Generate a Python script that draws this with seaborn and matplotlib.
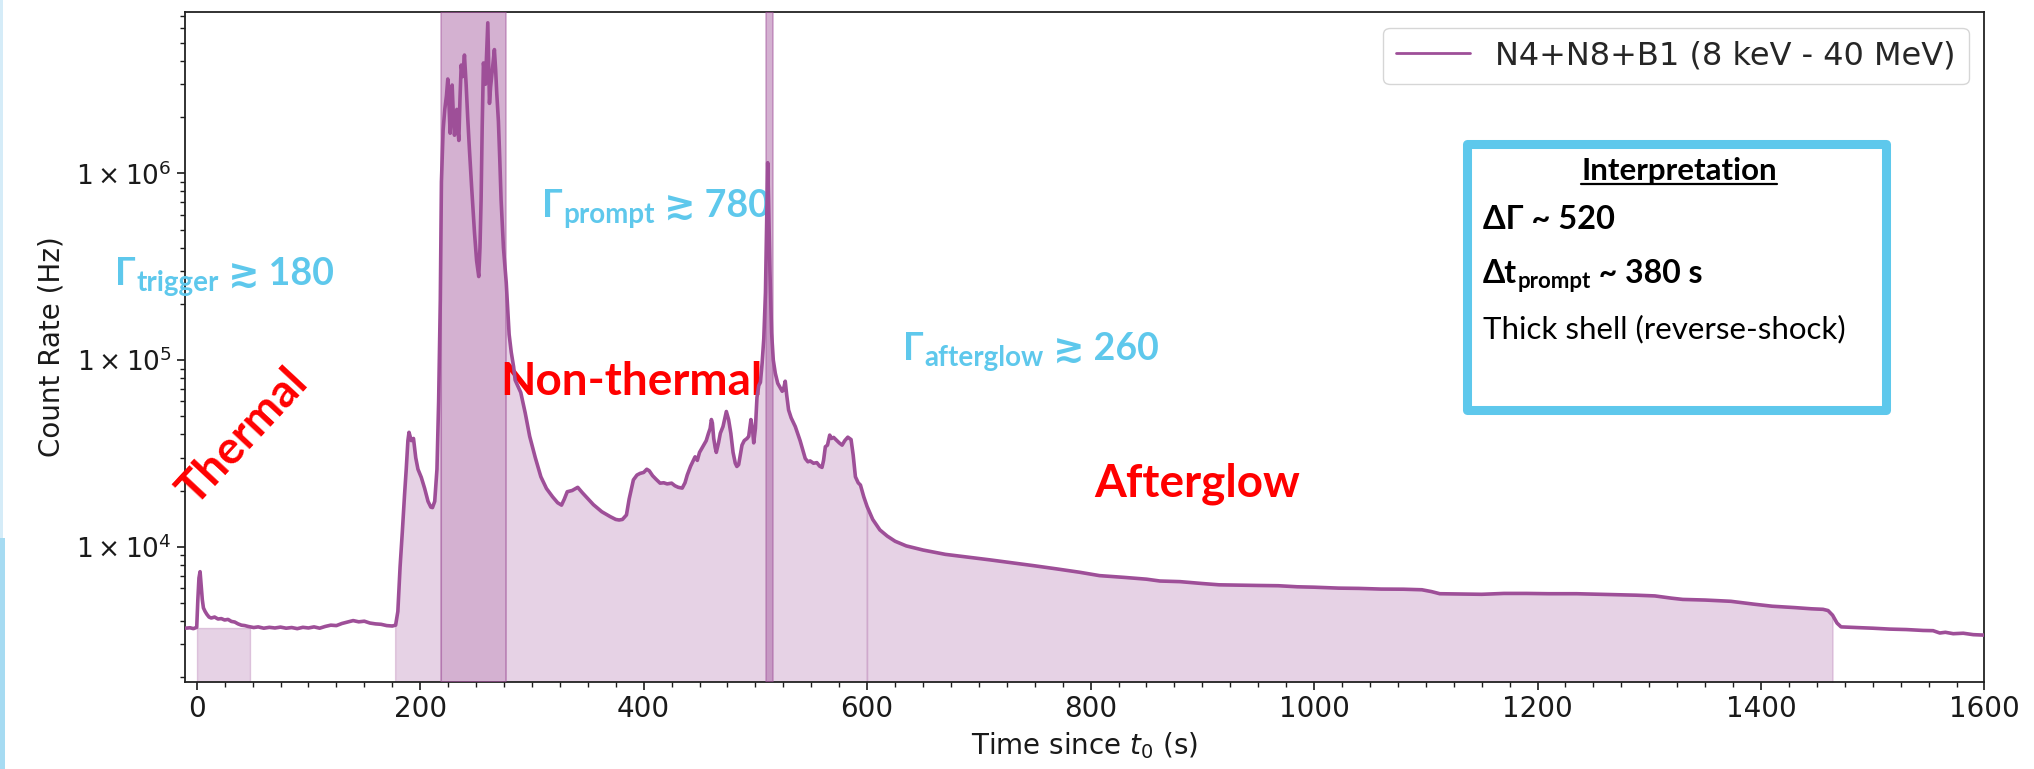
import numpy as np
import pandas as pd
import matplotlib
matplotlib.use("Agg")
import matplotlib.pyplot as plt
import seaborn as sns
from matplotlib.ticker import MultipleLocator, FixedLocator, FuncFormatter, LogLocator, NullFormatter
from matplotlib.patches import Rectangle
from matplotlib.lines import Line2D

# ---------------------------------------------------------------- light curve
time_s = [
    -10, -6, -3, 0, 1, 2, 3, 4, 5, 6, 7.5, 9, 11, 13, 16, 19, 22, 25, 28, 31,
    34, 37, 40, 43, 46, 48, 51, 55, 60, 65, 70, 75, 80, 85, 90, 95, 100, 105,
    110, 115, 120, 125, 130, 135, 140, 145, 150, 155, 160, 165, 170, 175, 178,
    180, 182, 184, 186, 187.5, 189, 190, 192, 194, 196, 198, 201, 204, 207,
    209.5, 211, 213, 215, 216.5, 218, 219, 220.5, 222, 223.5, 224.7, 225.8,
    226.8, 227.8, 228.6, 229.6, 230.7, 231.8, 232.8, 233.7, 234.6, 235.6,
    236.7, 238, 239.6, 241.1, 242.5, 244.1, 246, 248.6, 250.5, 252.4, 253.5,
    254.5, 255.5, 256.6, 257.5, 258.4, 259.5, 260.5, 261.3, 262, 263, 264,
    265.2, 266.4, 267.5, 268.5, 270, 271.2, 272.4, 274.5, 276.3, 277, 279.6,
    281.5, 283.6, 285, 290, 294, 298, 303, 308, 313, 318.5, 323, 326.5, 329,
    331.6, 336, 341, 345, 349.6, 355, 362.5, 370, 375, 378, 381, 384.6, 387,
    390.8, 394, 396.8, 400, 402.8, 405, 408, 411, 414.7, 418, 421, 425, 428,
    431, 434.5, 437, 439, 442, 446, 448, 450, 453.7, 456, 458, 459.5, 460.6,
    461.5, 462.7, 464, 465, 467, 468.6, 471, 474, 476, 478, 480, 482, 483.4,
    485, 488, 490, 492.5, 494, 496, 497.5, 498.5, 500, 501.4, 503, 504.5, 506,
    507.5, 509, 510.2, 511, 511.8, 513, 514.5, 516, 517.8, 520, 522.3, 524,
    525, 526.7, 528, 529.7, 532, 535.7, 540, 544.6, 547, 549, 552, 555, 557.5,
    559.6, 561, 562.6, 564.5, 566.5, 568, 570, 573, 575, 577.6, 580, 582.7,
    585.6, 587.5, 589.5, 592, 594, 597, 600, 605, 611.4, 618, 625, 635, 650,
    670, 690, 710, 730, 750, 770, 790, 808, 830, 850, 862, 880, 900, 915, 935,
    950, 968, 985, 1000, 1022, 1040, 1060, 1080, 1096.5, 1105, 1112.5, 1130,
    1150, 1170, 1190, 1210, 1235, 1260, 1288, 1305, 1320, 1330, 1350, 1373,
    1394, 1410, 1430, 1445, 1455.5, 1460, 1464, 1468, 1471.6, 1480, 1490, 1500,
    1515, 1530, 1545, 1554, 1560, 1565, 1572, 1581, 1590, 1600,
]
count_rate_hz = [
    3.66e3, 3.68e3, 3.64e3, 3.70e3, 5.2e3, 6.8e3, 7.35e3, 6.2e3, 5.2e3, 4.7e3,
    4.5e3, 4.35e3, 4.2e3, 4.15e3, 4.2e3, 4.1e3, 4.12e3, 4.05e3, 4.08e3, 3.98e3,
    3.95e3, 3.86e3, 3.8e3, 3.78e3, 3.74e3, 3.72e3, 3.69e3, 3.72e3, 3.66e3,
    3.70e3, 3.67e3, 3.71e3, 3.66e3, 3.69e3, 3.64e3, 3.70e3, 3.67e3, 3.72e3,
    3.66e3, 3.74e3, 3.80e3, 3.78e3, 3.88e3, 3.95e3, 4.02e3, 3.96e3, 3.99e3,
    3.90e3, 3.86e3, 3.84e3, 3.78e3, 3.76e3, 3.80e3,
    4.5e3, 7.8e3, 1.2e4, 1.9e4, 2.6e4, 3.7e4, 4.1e4, 3.7e4, 3.8e4, 3.0e4,
    2.6e4, 2.35e4, 2.05e4, 1.75e4, 1.63e4, 1.62e4, 1.75e4, 2.6e4, 6e4, 2.1e5,
    9e5, 1.7e6, 2.2e6, 2.6e6, 3.2e6, 2.3e6, 1.64e6, 2.2e6, 2.97e6, 2.1e6,
    1.6e6, 2.0e6, 2.2e6, 1.7e6, 1.5e6, 2.5e6, 3.8e6, 3.3e6, 4.3e6, 3.0e6,
    2.0e6, 1.33e6, 8.5e5, 4.8e5, 3.4e5, 2.8e5, 4e5, 7.2e5, 1.8e6, 3.9e6,
    3.5e6, 3.0e6, 4.5e6, 6.4e6, 3.8e6, 2.37e6, 2.9e6, 3.3e6, 3.9e6, 4.6e6,
    3.6e6, 2.7e6, 1.9e6, 1.2e6, 7.2e5, 4.0e5, 2.9e5, 2.6e5, 1.37e5, 1.1e5,
    9.2e4, 7.8e4, 6.7e4, 5.2e4, 3.9e4, 3.0e4, 2.37e4, 2.05e4, 1.85e4, 1.72e4,
    1.67e4, 1.8e4, 1.97e4, 2.0e4, 2.08e4, 1.95e4, 1.82e4, 1.68e4, 1.54e4,
    1.45e4, 1.40e4, 1.39e4, 1.40e4, 1.48e4, 1.8e4, 2.28e4, 2.42e4, 2.47e4,
    2.5e4, 2.6e4, 2.55e4, 2.4e4, 2.3e4, 2.19e4, 2.2e4, 2.17e4, 2.19e4,
    2.12e4, 2.08e4, 2.06e4, 2.2e4, 2.42e4, 2.7e4, 3.03e4, 2.9e4, 3.2e4,
    3.5e4, 3.7e4, 4.05e4, 4.3e4, 4.8e4, 4.6e4, 3.8e4, 3.4e4, 3.2e4, 3.6e4,
    4.05e4, 4.4e4, 5.3e4, 4.8e4, 4.05e4, 3.2e4, 2.8e4, 2.69e4, 2.75e4, 3.5e4,
    3.7e4, 3.8e4, 3.9e4, 4.8e4, 4.2e4, 3.6e4, 4.3e4, 6.3e4, 7.3e4, 7.6e4,
    9.6e4, 1.3e5, 2.3e5, 6e5, 1.14e6, 7e5, 3e5, 1.4e5, 1.0e5, 8.5e4, 7.5e4,
    7.1e4, 6.8e4, 6.9e4, 7.7e4, 6.5e4, 5.4e4, 4.9e4, 4.4e4, 3.7e4, 2.97e4,
    2.85e4, 2.88e4, 2.8e4, 2.82e4, 2.7e4, 2.66e4, 2.9e4, 3.43e4, 3.5e4,
    3.96e4, 3.8e4, 3.85e4, 3.7e4, 3.6e4, 3.5e4, 3.7e4, 3.86e4, 3.75e4, 3.1e4,
    2.37e4, 2.2e4, 2.14e4, 1.85e4, 1.64e4, 1.4e4, 1.23e4, 1.14e4, 1.07e4,
    1.01e4, 9.6e3, 9.1e3, 8.8e3, 8.5e3, 8.2e3, 7.9e3, 7.6e3, 7.3e3, 7.0e3,
    6.85e3, 6.7e3, 6.55e3, 6.5e3, 6.35e3, 6.25e3, 6.22e3, 6.2e3, 6.18e3,
    6.1e3, 6.07e3, 6.0e3, 5.98e3, 5.93e3, 5.92e3, 5.88e3, 5.75e3, 5.6e3,
    5.58e3, 5.56e3, 5.62e3, 5.62e3, 5.6e3, 5.6e3, 5.55e3, 5.5e3, 5.45e3,
    5.3e3, 5.22e3, 5.18e3, 5.1e3, 4.92e3, 4.8e3, 4.72e3, 4.65e3, 4.62e3,
    4.55e3, 4.3e3, 3.9e3, 3.72e3, 3.7e3, 3.68e3, 3.66e3, 3.62e3, 3.6e3,
    3.56e3, 3.55e3, 3.45e3, 3.48e3, 3.42e3, 3.44e3, 3.38e3, 3.36e3,
]

series_label = "N4+N8+B1 (8 keV - 40 MeV)"

# emission phases (s)
thermal_window = (0, 48)
nonthermal_window = (178, 600)
afterglow_window = (600, 1464)
prompt_spans = [(219, 277), (509.5, 515.5)]
thermal_level = 3.66e3

x_ticks = [0, 200, 400, 600, 800, 1000, 1200, 1400, 1600]
y_ticks = [1e4, 1e5, 1e6]

phase_labels = ["Thermal", "Non-thermal", "Afterglow"]
lorentz_labels = [("trigger", "180"), ("prompt", "780"), ("afterglow", "260")]
box_title = "Interpretation"
box_delta_gamma = "ΔΓ ~ 520"
box_delta_t = ("Δt", "prompt", " ~ 380 s")
box_shell = "Thick shell (reverse-shock)"

# ---------------------------------------------------------------- styling
sns.set_theme(style="ticks")
plt.rcParams["font.family"] = ["DejaVu Sans"]
plt.rcParams["mathtext.fontset"] = "dejavusans"

LINE = "#9e4f98"
CYAN = "#5ec8ec"
RED = "#ff0000"
ANN_FONT = ["Lato", "DejaVu Sans"]

df = pd.DataFrame({"time": time_s, "rate": count_rate_hz})
t = df["time"].to_numpy()
r = df["rate"].to_numpy()

fig = plt.figure(figsize=(20.34, 7.69), dpi=100)
ax = fig.add_axes([0.09095, 0.11352, 0.88471, 0.87126])

sns.lineplot(data=df, x="time", y="rate", ax=ax, color=LINE, linewidth=2.6,
             label=series_label, estimator=None, sort=False, zorder=5)
ax.set_yscale("log")
ax.set_xlim(-10.5, 1600)
ax.set_ylim(1892, 7.34e6)
floor = 1e3

# shaded emission phases
m_th = (t >= thermal_window[0]) & (t <= thermal_window[1])
ax.fill_between(t, floor, thermal_level, where=m_th, color=LINE, alpha=0.25, zorder=2)

in_prompt = (t > prompt_spans[0][0]) & (t < prompt_spans[0][1])
m_nt = (t >= nonthermal_window[0]) & (t <= nonthermal_window[1]) & ~in_prompt
ax.fill_between(t, floor, r, where=m_nt, color=LINE, alpha=0.25, zorder=2)

m_ag = (t >= afterglow_window[0]) & (t <= afterglow_window[1])
ax.fill_between(t, floor, r, where=m_ag, color=LINE, alpha=0.25, zorder=2)

for lo, hi in prompt_spans:
    ax.axvspan(lo, hi, color=LINE, alpha=0.44, lw=1.2, zorder=3)

# axes
ax.xaxis.set_major_locator(FixedLocator(x_ticks))
ax.xaxis.set_minor_locator(MultipleLocator(25))
ax.yaxis.set_major_locator(FixedLocator(y_ticks))
ax.yaxis.set_major_formatter(FuncFormatter(lambda v, p: r"$1\times10^{%d}$" % round(np.log10(v))))
ax.yaxis.set_minor_locator(LogLocator(base=10, subs=np.arange(2, 10)))
ax.yaxis.set_minor_formatter(NullFormatter())
ax.tick_params(which="major", length=6, width=1.2, color="k", labelcolor="k",
               left=True, bottom=True, top=False, right=False)
ax.tick_params(axis="x", which="major", labelsize=20)
ax.tick_params(axis="y", which="major", labelsize=19)
ax.tick_params(which="minor", length=3.5, width=1.0, color="k", left=True, bottom=True)
for sp in ax.spines.values():
    sp.set_visible(True)
    sp.set_color("#222222")
    sp.set_linewidth(1.3)
ax.set_xlabel(r"Time since $t_0$ (s)", fontsize=20, color="k", labelpad=5)
ax.set_ylabel("Count Rate (Hz)", fontsize=20, color="k", labelpad=8)

leg = ax.legend(loc="upper right", fontsize=23, frameon=True, fancybox=True,
                edgecolor="#cccccc", handlelength=2.3, borderpad=0.4)
for h in leg.get_lines():
    h.set_linewidth(2.0)

# phase names
txt_kw = dict(color=RED, fontsize=33, fontweight="bold", family=ANN_FONT, zorder=4)
ax.text(41.6, 3.87e4, phase_labels[0], rotation=47, rotation_mode="anchor",
        ha="center", va="center", **txt_kw)
ax.text(389, 6.5e4, phase_labels[1], ha="center", va="baseline", **txt_kw)
ax.text(895, 1.85e4, phase_labels[2], ha="center", va="baseline", **txt_kw)


def subscripted(x, y, head, sub, tail, size, sub_size, color, weight, transform, drop=0.0):
    kw = dict(color=color, fontweight=weight, family=ANN_FONT, zorder=4)
    h = ax.text(x, y, head, transform=transform, fontsize=size, ha="left", va="baseline", **kw)
    s = ax.annotate(sub, xy=(1, 0), xycoords=h, xytext=(0.5, drop), textcoords="offset points",
                    fontsize=sub_size, ha="left", va="baseline", annotation_clip=False, **kw)
    ax.annotate(tail, xy=(1, 0), xycoords=(s, h), xytext=(0, 0), textcoords="offset points",
                fontsize=size, ha="left", va="bottom", annotation_clip=False, **kw)
    return h


# Lorentz factor estimates
gamma_pos = [(-73, 2.52e5), (309, 5.86e5), (632, 1.0e5)]
for (sub, val), (gx, gy) in zip(lorentz_labels, gamma_pos):
    subscripted(gx, gy, "Γ", sub, " ≳ " + val, 27, 20, CYAN, "bold", ax.transData)

# interpretation box
fig.patches.append(Rectangle((0.7212, 0.4662), 0.2060, 0.3459, transform=fig.transFigure,
                             fill=False, edgecolor=CYAN, linewidth=6.5, joinstyle="round",
                             zorder=6))
BOX = 22.5
title = fig.text(0.8255, 0.7659, box_title, fontsize=BOX, fontweight="bold", family=ANN_FONT,
                 ha="center", va="baseline", color="black")
fig.text(0.7291, 0.7018, box_delta_gamma, fontsize=BOX + 1, fontweight="bold", family=ANN_FONT,
         ha="left", va="baseline", color="black")
subscripted(0.7291, 0.6316, box_delta_t[0], box_delta_t[1], box_delta_t[2], BOX + 0.5, 16,
            "black", "bold", fig.transFigure, drop=0.5)
fig.text(0.7291, 0.5601, box_shell, fontsize=BOX, family=ANN_FONT,
         ha="left", va="baseline", color="black")

# underline the box title
renderer = fig.canvas.get_renderer()
bb = title.get_window_extent(renderer)
W, H = fig.bbox.width, fig.bbox.height
fig.lines.append(Line2D([bb.x0 / W, bb.x1 / W], [(bb.y0 + 1.0) / H] * 2,
                        transform=fig.transFigure, color="black", linewidth=1.6))

# slide edge strip
fig.patches.append(Rectangle((0, 0), 3 / 2034, 1, transform=fig.transFigure,
                             color="#d5ecf8", lw=0, zorder=0))
fig.patches.append(Rectangle((0, 0), 5 / 2034, 0.3, transform=fig.transFigure,
                             color="#a6dbf2", lw=0, zorder=0))

fig.savefig("out.png", dpi=100)
